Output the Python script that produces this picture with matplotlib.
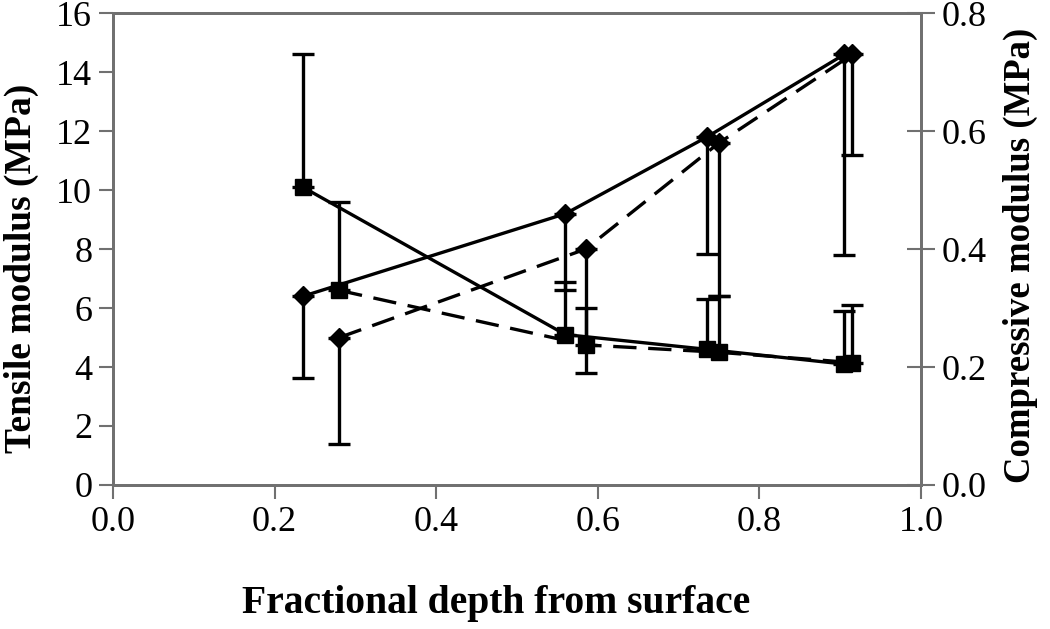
import matplotlib
matplotlib.use("Agg")
import matplotlib.pyplot as plt
import numpy as np

plt.rcParams['font.family'] = ['Liberation Serif', 'DejaVu Serif']

# Tensile modulus (MPa), squares, left axis
x_tens_a = [0.235, 0.56, 0.735, 0.905]
tens_a = [10.1, 5.1, 4.6, 4.1]
tens_a_up = [4.5, 1.8, 1.7, 1.8]

x_tens_b = [0.28, 0.585, 0.75, 0.915]
tens_b = [6.6, 4.75, 4.5, 4.15]
tens_b_up = [3.0, 1.25, 1.9, 1.95]

# Compressive modulus (MPa), diamonds, right axis
x_comp_a = [0.235, 0.56, 0.735, 0.905]
comp_a = [0.32, 0.46, 0.59, 0.73]
comp_a_dn = [0.138, 0.13, 0.198, 0.34]

x_comp_b = [0.28, 0.585, 0.75, 0.915]
comp_b = [0.25, 0.40, 0.58, 0.73]
comp_b_dn = [0.18, 0.21, 0.26, 0.17]

xticks = [0.0, 0.2, 0.4, 0.6, 0.8, 1.0]
yticks_left = [0, 2, 4, 6, 8, 10, 12, 14, 16]
yticks_right = [0.0, 0.2, 0.4, 0.6, 0.8]

fig = plt.figure(figsize=(10.5, 6.29), dpi=100)
ax = fig.add_axes([0.1076, 0.229, 0.7695, 0.750])
ax2 = ax.twinx()

dash = (0, (7, 3.5))
lw = 2.4
err_kw = dict(color='black', lw=lw, capsize=8, capthick=lw, ms=11)

zero = [0] * 4
ax.errorbar(x_tens_a, tens_a, yerr=[zero, tens_a_up], fmt='s-', **err_kw)
ax.errorbar(x_tens_b, tens_b, yerr=[zero, tens_b_up], fmt='s', **err_kw)
ax.plot(x_tens_b, tens_b, color='black', lw=lw, linestyle=dash)

err_kw2 = dict(err_kw, ms=10)
ax2.errorbar(x_comp_a, comp_a, yerr=[comp_a_dn, zero], fmt='D-', **err_kw2)
ax2.errorbar(x_comp_b, comp_b, yerr=[comp_b_dn, zero], fmt='D', **err_kw2)
ax2.plot(x_comp_b, comp_b, color='black', lw=lw, linestyle=dash)

ax.set_xlim(0, 1.0)
ax.set_ylim(0, 16)
ax2.set_ylim(0, 0.8)
ax.set_xticks(xticks)
ax.set_xticklabels([f"{v:.1f}" for v in xticks])
ax.set_yticks(yticks_left)
ax2.set_yticks(yticks_right)
ax2.set_yticklabels([f"{v:.1f}" for v in yticks_right])

for a in (ax, ax2):
    for s in a.spines.values():
        s.set_color('#707070')
        s.set_linewidth(2)

ax.tick_params(axis='both', direction='out', length=10, width=1.5,
               color='#707070', labelsize=26, pad=5)
ax2.tick_params(axis='y', direction='inout', length=20, width=1.5,
                color='#707070', labelsize=26, pad=5)

ax.set_xlabel("Fractional depth from surface", fontsize=28.5, fontweight='bold')
ax.xaxis.set_label_coords(0.474, -0.213)
ax.set_ylabel("Tensile modulus (MPa)", fontsize=27, fontweight='bold')
ax.yaxis.set_label_coords(-0.092, 0.46)
ax2.set_ylabel("Compressive modulus (MPa)", fontsize=26.5, fontweight='bold')
ax2.yaxis.set_label_coords(1.101, 0.487)

plt.savefig("out.png", dpi=100)
plt.close(fig)
